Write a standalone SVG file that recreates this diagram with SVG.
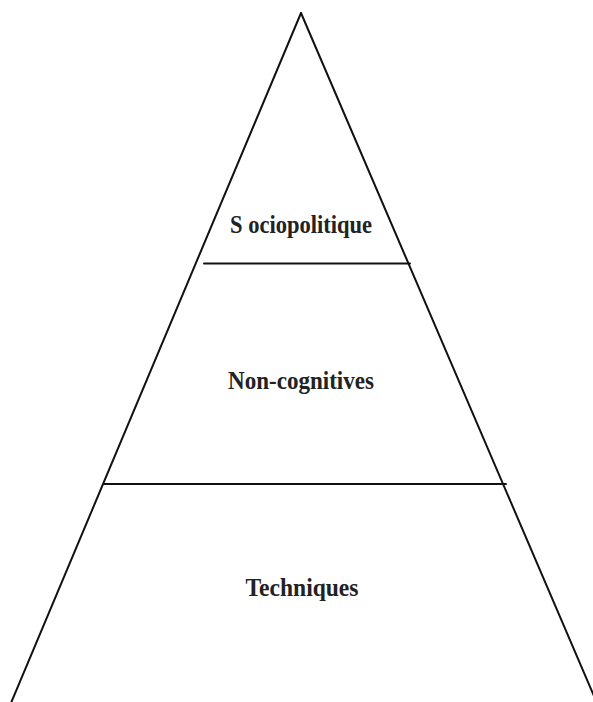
<svg xmlns="http://www.w3.org/2000/svg" width="593" height="702" viewBox="0 0 593 702">
<style>
.edge{stroke:#111;stroke-width:2;fill:none;stroke-linecap:round}
.lbl{font-family:"Liberation Serif","Times New Roman",serif;font-weight:bold;font-size:25px;fill:#222;text-anchor:middle}
</style>
<rect width="593" height="702" fill="#fff"/>
<g id="connectors">
<line class="edge" x1="301" y1="13" x2="11" y2="703"/>
<line class="edge" x1="301" y1="13" x2="597" y2="703"/>
<line class="edge" x1="204" y1="263.5" x2="410" y2="263.5"/>
<line class="edge" x1="104" y1="484" x2="506" y2="484"/>
</g>
<g id="sociopolitique"><text class="lbl" x="301" y="233" textLength="142" lengthAdjust="spacingAndGlyphs">S ociopolitique</text></g>
<g id="non-cognitives"><text class="lbl" x="301" y="389" textLength="146" lengthAdjust="spacingAndGlyphs">Non-cognitives</text></g>
<g id="techniques"><text class="lbl" x="302" y="596" textLength="113" lengthAdjust="spacingAndGlyphs">Techniques</text></g>
</svg>
